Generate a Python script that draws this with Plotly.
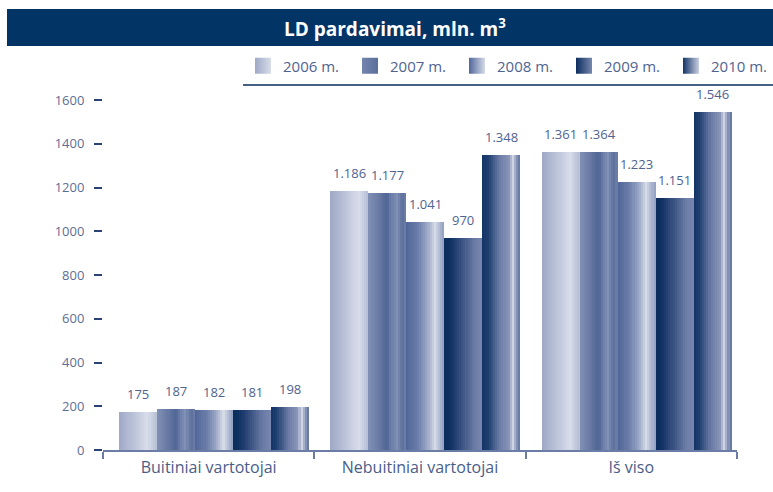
import plotly.graph_objects as go

categories = ["Buitiniai vartotojai", "Nebuitiniai vartotojai", "Iš viso"]
series_names = ["2006 m.", "2007 m.", "2008 m.", "2009 m.", "2010 m."]
v2006 = [175, 1186, 1361]
v2007 = [187, 1177, 1364]
v2008 = [182, 1041, 1223]
v2009 = [181, 970, 1151]
v2010 = [198, 1348, 1546]
y_ticks = [0, 200, 400, 600, 800, 1000, 1200, 1400, 1600]

values = [v2006, v2007, v2008, v2009, v2010]

# horizontal gradient stops for each series (style)
stops = [
    [(0, '#9ea8c7'), (0.45, '#c0c7dc'), (0.75, '#d8dde9'), (1, '#b4bdd5')],
    [(0, '#8291b5'), (0.25, '#6b7ca6'), (0.5, '#4f6595'), (0.6, '#6a7ca7'),
     (0.75, '#8190b5'), (0.9, '#5c6f9c'), (1, '#6f80aa')],
    [(0, '#50669a'), (0.3, '#6b7da8'), (0.55, '#9aa6c5'), (0.75, '#d6dbe8'),
     (0.85, '#b8c1d8'), (1, '#8f9cbe')],
    [(0, '#0b2d5e'), (0.15, '#0e3062'), (0.5, '#3f5686'), (0.8, '#6b7ca6'), (1, '#7887ae')],
    [(0, '#123466'), (0.15, '#1f3f6f'), (0.45, '#6a7ba5'), (0.7, '#8995b8'),
     (0.8, '#d3d8e6'), (0.9, '#8a97ba'), (1, '#5e709d')],
]
legend_left = ['#9ea8c7', '#7384ad', '#50669a', '#0b2d5e', '#123466']
legend_right = ['#d8dde9', '#5c6f9c', '#d6dbe8', '#7887ae', '#c9cfe1']


def hex2rgb(h):
    h = h.lstrip('#')
    return [int(h[i:i + 2], 16) for i in (0, 2, 4)]


def interp(st, t):
    for (p0, c0), (p1, c1) in zip(st[:-1], st[1:]):
        if p0 <= t <= p1:
            f = (t - p0) / (p1 - p0) if p1 > p0 else 0
            a, b = hex2rgb(c0), hex2rgb(c1)
            r = [round(a[i] + (b[i] - a[i]) * f) for i in range(3)]
            return 'rgb(%d,%d,%d)' % tuple(r)
    return st[-1][1]


def fmt(v):
    return f"{v:,}".replace(",", ".")


BAR_W = 0.18
BASE = -0.425
N = 18
label_color = '#4f6390'

fig = go.Figure()
annotations = []

for s, (name, vals) in enumerate(zip(series_names, values)):
    start = BASE + s * BAR_W
    step = BAR_W / N
    for j in range(N):
        off = start + j * step
        w = min(step * 1.6, start + BAR_W - off)
        fig.add_trace(go.Bar(
            x=categories, y=vals, offset=off, width=w,
            marker=dict(color=interp(stops[s], (j + 0.5) / N), line=dict(width=0)),
            showlegend=False, hoverinfo='skip'))
    # value labels above each bar
    for i, v in enumerate(vals):
        annotations.append(dict(
            x=i + start + BAR_W / 2, y=v, xref='x', yref='y', text=fmt(v),
            showarrow=False, yanchor='bottom', xanchor='center', yshift=7,
            font=dict(size=13, color=label_color, family='Open Sans')))
    # legend entry (no marks)
    fig.add_trace(go.Scatter(
        x=[None], y=[None], mode='markers', name=name,
        marker=dict(symbol='square', size=16, color=legend_left[s],
                    gradient=dict(type='horizontal', color=legend_right[s]),
                    line=dict(width=0)),
        showlegend=True, hoverinfo='skip'))

# plot area: x 103..737, y 50..450 (px)
L, R, T, B = 103, 36, 50, 42
W, H = 773, 492
pw, ph = W - L - R, H - T - B


def px_x(x):
    return (x - L) / pw


def px_y(y):
    return (H - B - y) / ph


annotations.append(dict(
    text='<b>LD pardavimai, mln. m<sup>3</sup></b>', xref='paper', yref='paper',
    x=px_x(395), y=px_y(28), xanchor='center', yanchor='middle', showarrow=False,
    font=dict(size=19, color='white', family='Open Sans')))

fig.update_layout(
    width=W, height=H,
    margin=dict(l=L, r=R, t=T, b=B, autoexpand=False),
    paper_bgcolor='white', plot_bgcolor='white',
    barmode='overlay', bargap=0,
    font=dict(family='Open Sans', color=label_color),
    showlegend=True,
    legend=dict(orientation='h', x=px_x(243), xanchor='left', y=px_y(66), yanchor='middle',
                font=dict(size=15, color=label_color), itemsizing='trace',
                entrywidth=62, entrywidthmode='pixels',
                itemclick=False, bgcolor='rgba(0,0,0,0)'),
    xaxis=dict(range=[-0.5, 2.5], showline=True, linecolor='#6b7ca6', linewidth=1.5,
               ticks='outside', tickson='boundaries', ticklen=7, tickcolor='#6b7ca6', tickwidth=1.5,
               ticklabelstandoff=2,
               tickfont=dict(size=16, color='#4a5d88'), showgrid=False, zeroline=False, fixedrange=True),
    yaxis=dict(range=[0, ph / 0.21875], tickvals=y_ticks, ticktext=[str(t) for t in y_ticks],
               ticks='outside', ticklen=8, tickcolor='#2a4373', tickwidth=1.5,
               ticklabelstandoff=7, showline=False, showgrid=False, zeroline=False,
               tickfont=dict(size=13, color='#5b6e98'), fixedrange=True),
    shapes=[
        dict(type='rect', xref='paper', yref='paper', x0=px_x(7), x1=px_x(773),
             y0=px_y(46), y1=px_y(9), fillcolor='#033466', line=dict(width=0), layer='below'),
        dict(type='line', xref='paper', yref='paper', x0=px_x(243), x1=px_x(773),
             y0=px_y(85), y1=px_y(85), line=dict(color='#0a2c5e', width=1.5)),
    ],
    annotations=annotations,
)

fig.write_html("out.html", config={'displayModeBar': False},
               post_script="document.body.style.margin='0px';")
